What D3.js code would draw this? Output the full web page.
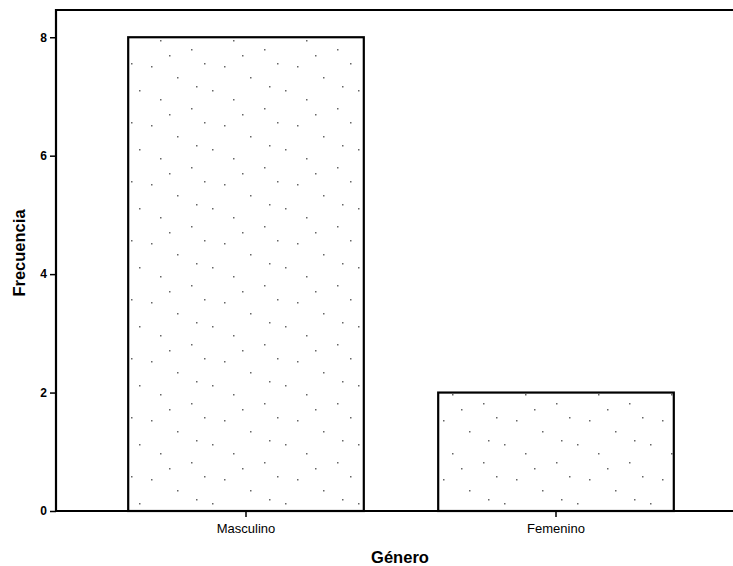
<!DOCTYPE html>
<html><head><meta charset="utf-8">
<script src="https://cdn.jsdelivr.net/npm/d3@7"></script>
<style>body{margin:0;background:#fff}svg{display:block}text{font-family:"Liberation Sans",Arial,sans-serif;fill:#000}</style>
</head><body>
<script>
const categories = ["Masculino", "Femenino"];
const values = [8, 2];
const yTicks = [0, 2, 4, 6, 8];

const W = 733, H = 566;
const mLeft = 56, mTop = 10, mBottom = 511, mRight = 740;
const svg = d3.select("body").append("svg").attr("width", W).attr("height", H);

const defs = svg.append("defs");
const pat = defs.append("pattern").attr("id","stip").attr("patternUnits","userSpaceOnUse").attr("width",73).attr("height",59);
pat.append("rect").attr("width",73).attr("height",59).attr("fill","#fff");
[[5,7],[31,18],[58,4],[14,40],[45,49],[66,31],[23,55],[50,27]].forEach(([px,py])=>
  pat.append("rect").attr("x",px).attr("y",py).attr("width",1.5).attr("height",1.5).attr("fill","#666"));

const x = d3.scaleBand().domain(categories).range([91, 711]).paddingInner(0.24).paddingOuter(0.12);
const y = d3.scaleLinear().domain([0, 8.46]).range([mBottom, mTop]);

// bars
svg.selectAll("rect.bar").data(categories).join("rect").attr("class","bar")
  .attr("x", d => x(d)).attr("width", x.bandwidth())
  .attr("y", (d,i) => y(values[i])).attr("height", (d,i) => mBottom - y(values[i]))
  .attr("fill", "url(#stip)").attr("stroke", "#000").attr("stroke-width", 2.2);

// frame
svg.append("path").attr("d", `M${mRight},${mTop}H${mLeft}V${mBottom}H${mRight}`)
  .attr("fill","none").attr("stroke","#000").attr("stroke-width",2.2);

// y axis
const ya = svg.append("g").attr("transform", `translate(${mLeft},0)`)
  .call(d3.axisLeft(y).tickValues(yTicks).tickSize(6).tickPadding(3).tickFormat(d3.format("d")));
ya.select(".domain").remove();
ya.selectAll("line").attr("stroke","#000").attr("stroke-width",1.5);
ya.selectAll("text").attr("font-size", 12).attr("font-weight","bold");

// x axis
const xa = svg.append("g").attr("transform", `translate(0,${mBottom})`)
  .call(d3.axisBottom(x).tickSize(6).tickPadding(7));
xa.select(".domain").remove();
xa.selectAll("line").attr("stroke","#000").attr("stroke-width",1.5);
xa.selectAll("text").attr("font-size", 13);

// titles
svg.append("text").attr("x", 400).attr("y", 563).attr("text-anchor","middle")
  .attr("font-size", 16.5).attr("font-weight","bold").text("Género");
svg.append("text").attr("transform","translate(25,253) rotate(-90)").attr("text-anchor","middle")
  .attr("font-size", 16.5).attr("font-weight","bold").text("Frecuencia");
</script>
</body></html>
